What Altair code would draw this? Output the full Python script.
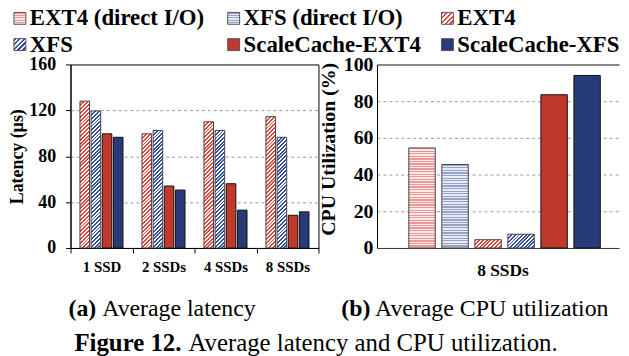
import math
import altair as alt
import pandas as pd

# ---------------- data ----------------
groups = ["1 SSD", "2 SSDs", "4 SSDs", "8 SSDs"]
lat_series = ["EXT4", "XFS", "ScaleCache-EXT4", "ScaleCache-XFS"]
lat_ext4 = [128, 99.5, 110, 114.5]
lat_xfs = [119.5, 102.5, 102.5, 96.5]
lat_sc_ext4 = [99.5, 54, 56, 28.5]
lat_sc_xfs = [96.5, 50.5, 33, 31.5]

cpu_group = ["8 SSDs"]
cpu_series = ["EXT4 (direct I/O)", "XFS (direct I/O)", "EXT4", "XFS",
              "ScaleCache-EXT4", "ScaleCache-XFS"]
cpu_values = [54.5, 45.5, 4.5, 7.5, 83.5, 94]

legend_labels = ["EXT4 (direct I/O)", "XFS (direct I/O)", "EXT4",
                 "XFS", "ScaleCache-EXT4", "ScaleCache-XFS"]
lat_ticks = [0, 40, 80, 120, 160]
cpu_ticks = [0, 20, 40, 60, 80, 100]

caption_a = ["(a)", "Average latency"]
caption_b = ["(b)", "Average CPU utilization"]
caption_fig = ["Figure 12.", "Average latency and CPU utilization."]

# ---------------- styles ----------------
FONT = "Liberation Serif"
LW, LH = 250, 185      # left panel size
RW, RH = 244, 185      # right panel size
L_PI, L_PO = 0.14, 0.85
R_PI, R_PO = 0.2, 0.765

styles = {
    "EXT4 (direct I/O)": ("h", "#EE9896", "#FCEAEA"),
    "XFS (direct I/O)": ("h", "#95A3C8", "#E9ECF4"),
    "EXT4": ("d", "#E4433A", "white"),
    "XFS": ("d", "#3350A0", "white"),
    "ScaleCache-EXT4": ("s", "#C0392B", None),
    "ScaleCache-XFS": ("s", "#263B77", None),
}


def stripe_stops(n, color, bg, frac=0.5):
    stops = []
    for k in range(n):
        a, b, c = k / n, (k + frac) / n, (k + 1) / n
        stops += [
            alt.GradientStop(offset=round(a, 5), color=color),
            alt.GradientStop(offset=round(b, 5), color=color),
            alt.GradientStop(offset=round(b, 5), color=bg),
            alt.GradientStop(offset=round(c, 5), color=bg),
        ]
    return stops


def fill_for(series, w, h, period=2.7):
    kind, color, bg = styles[series]
    if kind == "s":
        return color
    if kind == "h":
        n = max(2, round(h / 2.6))
        return alt.LinearGradient(gradient="linear", x1=0, y1=0, x2=0, y2=1,
                                  stops=stripe_stops(n, color, bg, 0.5))
    c = (1 / h + 1 / w) / (1 / h ** 2 + 1 / w ** 2)
    n = max(2, round((w + h) / math.sqrt(2) / period))
    return alt.LinearGradient(gradient="linear", x1=0, y1=0, x2=c / h, y2=c / w,
                              stops=stripe_stops(n, color, bg, 0.5))


def stroke_for(series):
    return "#111111" if styles[series][0] == "s" else "#444444"


# ---------------- left panel: latency ----------------
lat_vals = {"EXT4": lat_ext4, "XFS": lat_xfs,
            "ScaleCache-EXT4": lat_sc_ext4, "ScaleCache-XFS": lat_sc_xfs}
lat_df = pd.DataFrame([
    {"group": g, "series": s, "value": lat_vals[s][i]}
    for s in lat_series for i, g in enumerate(groups)
])

l_step = (LW / len(groups)) / (len(lat_series) - L_PI + 2 * L_PO)
l_barw = l_step * (1 - L_PI)

lx = alt.X("group:N", sort=groups,
           scale=alt.Scale(domain=groups, paddingInner=0, paddingOuter=0),
           axis=alt.Axis(title=None, labelAngle=0, tickBand="extent", tickSize=5,
                         labelFontSize=15, labelFontWeight="bold", labelPadding=7,
                         domainColor="black", tickColor="black"))
lxo = alt.XOffset("series:N", sort=lat_series,
                  scale=alt.Scale(domain=lat_series, paddingInner=L_PI, paddingOuter=L_PO))
ly = alt.Y("value:Q",
           scale=alt.Scale(domain=[0, 160], nice=False),
           axis=alt.Axis(values=lat_ticks, title="Latency (µs)", titleFontSize=18,
                         titleFontWeight="bold", titlePadding=2,
                         labelFontSize=18, labelFontWeight="bold", labelPadding=10,
                         tickSize=5, grid=True, gridColor="#9A9A9A", gridDash=[3, 3],
                         gridOpacity={"condition": {"test": "datum.value === 0 || datum.value === 160",
                                                    "value": 0}, "value": 1}))

lat_layers = []
for s in lat_series:
    if styles[s][0] == "s":
        lat_layers.append(
            alt.Chart(lat_df).transform_filter(alt.datum.series == s)
            .mark_bar(fill=styles[s][1], stroke=stroke_for(s), strokeWidth=1)
            .encode(x=lx, xOffset=lxo, y=ly))
    else:
        for i, g in enumerate(groups):
            h = lat_vals[s][i] / 160 * LH
            lat_layers.append(
                alt.Chart(lat_df)
                .transform_filter((alt.datum.series == s) & (alt.datum.group == g))
                .mark_bar(fill=fill_for(s, l_barw, h), stroke=stroke_for(s), strokeWidth=1)
                .encode(x=lx, xOffset=lxo, y=ly))
lat_bars = alt.layer(*lat_layers)

# legend (drawn above the left panel)
legend_df = pd.DataFrame({"label": legend_labels,
                          "col": [i % 3 for i in range(len(legend_labels))],
                          "row": [i // 3 for i in range(len(legend_labels))]})
gx = alt.X("col:Q", scale=alt.Scale(domain=[0, 2], range=[-51, 380]), axis=None)
gy = alt.Y("row:Q", scale=alt.Scale(domain=[0, 1], range=[-46.5, -20]), axis=None)
legend_layers = []
for s in legend_labels:
    legend_layers.append(
        alt.Chart(legend_df).transform_filter(alt.datum.label == s)
        .mark_square(size=144, fill=fill_for(s, 12, 12, period=3.2), fillOpacity=1,
                     stroke="#555555", strokeWidth=1, opacity=1)
        .encode(x=gx, y=gy))
legend_layers.append(
    alt.Chart(legend_df).mark_text(align="left", baseline="middle", dx=10,
                                   font=FONT, fontSize=23, fontWeight="bold",
                                   color="black")
    .encode(x=gx, y=gy, text="label:N"))
legend = alt.layer(*legend_layers)


def text_layer(txt, x, y, size, weight):
    return alt.Chart(pd.DataFrame({"t": [txt]})).mark_text(
        align="left", baseline="alphabetic", font=FONT, fontSize=size,
        fontWeight=weight, color="black").encode(
        x=alt.value(x), y=alt.value(y), text="t:N")


left = alt.layer(
    lat_bars, legend,
    text_layer(caption_a[0], -2, 254, 24, "bold"),
    text_layer(caption_a[1], 32, 254, 24, "normal"),
    text_layer(caption_fig[0], 4, 289, 25, "bold"),
    text_layer(caption_fig[1], 119, 289, 25, "normal"),
).resolve_scale(x="independent", y="independent").properties(
    width=LW, height=LH, view=alt.ViewBackground(stroke="black", strokeWidth=1))

# ---------------- right panel: CPU ----------------
cpu_df = pd.DataFrame({"group": cpu_group * len(cpu_series),
                       "series": cpu_series, "value": cpu_values})
r_step = RW / (len(cpu_series) - R_PI + 2 * R_PO)
r_barw = r_step * (1 - R_PI)

rx = alt.X("group:N",
           scale=alt.Scale(domain=cpu_group, paddingInner=0, paddingOuter=0),
           axis=alt.Axis(title=None, labelAngle=0, tickSize=0, labelFontSize=17.5,
                         labelFontWeight="bold", labelPadding=14, labelOffset=5,
                         domainColor="#333333"))
rxo = alt.XOffset("series:N", sort=cpu_series,
                  scale=alt.Scale(domain=cpu_series, paddingInner=R_PI,
                                  paddingOuter=R_PO, align=0.63))
ry = alt.Y("value:Q", scale=alt.Scale(domain=[0, 100], nice=False),
           axis=alt.Axis(values=cpu_ticks, title="CPU Utilization (%)", titleFontSize=20,
                         titleFontWeight="bold", titlePadding=5, titleY=85,
                         labelFontSize=20, labelFontWeight="bold", labelPadding=4,
                         tickSize=0, grid=True,
                         gridColor={"condition": {"test": "datum.value === 100", "value": "#8A8A8A"},
                                    "value": "#9A9A9A"},
                         gridDash={"condition": {"test": "datum.value === 100", "value": []},
                                   "value": [3, 3]},
                         gridWidth={"condition": {"test": "datum.value === 100", "value": 2},
                                    "value": 1},
                         gridOpacity={"condition": {"test": "datum.value === 0", "value": 0},
                                      "value": 1}))

cpu_layers = []
for i, s in enumerate(cpu_series):
    h = cpu_values[i] / 100 * RH
    cpu_layers.append(
        alt.Chart(cpu_df).transform_filter(alt.datum.series == s)
        .mark_bar(fill=fill_for(s, r_barw, h), stroke=stroke_for(s), strokeWidth=1)
        .encode(x=rx, xOffset=rxo, y=ry))

right = alt.layer(
    alt.layer(*cpu_layers),
    text_layer(caption_b[0], -36, 254, 24, "bold"),
    text_layer(caption_b[1], -2, 254, 24, "normal"),
).properties(width=RW, height=RH, view=alt.ViewBackground(stroke=None))

chart = alt.hconcat(left, right, spacing=59, bounds="flush").resolve_scale(
    x="independent", y="independent", xOffset="independent"
).properties(
    padding={"left": 0, "top": -2.5, "right": 0, "bottom": 0}
).configure_axis(
    labelFont=FONT, titleFont=FONT, labelColor="black", titleColor="black",
    domainColor="black", tickColor="black"
).configure_view(stroke="black")

chart.save("out.html", embed_options={"renderer": "svg", "actions": False})
